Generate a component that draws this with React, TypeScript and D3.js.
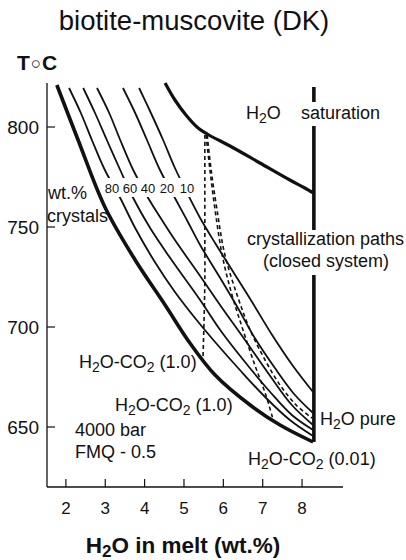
import React from 'react';
import * as d3 from 'd3';

type P = [number, number];

// axis ticks
const xTicks = [2, 3, 4, 5, 6, 7, 8];
const yTicks = [650, 700, 750, 800];

// crystal isopleth labels (wt.% crystals)
const crystalLabels = ['80', '60', '40', '20', '10'];
const crystalLabelX = [112, 130, 148, 167, 187];

// solidus-like bold curve (H2O wt.%, T °C)
const boldCurve: P[] = [
  [1.77, 821], [2.31, 793.5], [2.99, 760], [3.76, 733.5], [4.52, 711],
  [5.15, 692], [5.79, 676], [6.68, 661], [7.44, 651], [8.28, 642.5],
];
const c80: P[] = [
  [2.08, 819.5], [2.38, 807], [2.66, 793.5], [2.99, 778.5], [3.38, 764.5], [3.76, 749.5],
  [4.26, 732.5], [4.77, 717.5], [5.28, 704.5], [5.79, 692.5], [6.42, 678.5], [7.06, 665],
  [7.69, 653.5], [8.28, 645.5],
];
const c60: P[] = [
  [2.44, 819.5], [2.74, 807], [3.04, 793.5], [3.38, 778.5], [3.71, 764.5], [4.14, 749.5],
  [4.65, 734.5], [5.41, 713.5], [5.92, 698.5], [6.55, 682.5], [7.19, 667.5], [7.74, 656],
  [8.28, 648.5],
];
const c40: P[] = [
  [2.79, 819.5], [3.10, 807], [3.38, 793.5], [3.71, 778.5], [4.09, 764.5], [4.44, 753.5],
  [4.77, 743.5], [5.41, 725.5], [5.97, 709.5], [6.55, 693.5], [7.19, 675.5], [7.74, 661],
  [8.28, 651],
];
const c20: P[] = [
  [3.45, 819.5], [3.76, 807], [4.06, 793.5], [4.39, 778.5], [4.77, 764.5], [5.10, 752.5],
  [5.41, 741], [5.92, 724.5], [6.37, 709.5], [6.80, 694.5], [7.31, 679.5], [7.82, 666],
  [8.28, 657],
];
const c10: P[] = [
  [3.86, 819.5], [4.16, 807], [4.47, 793.5], [4.77, 779.5], [5.08, 767], [5.41, 754.5],
  [5.79, 742], [6.22, 728.5], [6.73, 712.5], [7.24, 696], [7.77, 680.5], [8.28, 667.5],
];
// liquidus / H2O saturation boundary
const liquidus: P[] = [
  [4.52, 822], [4.77, 813.5], [5.05, 806], [5.33, 800], [5.59, 796.5], [6.17, 790.5],
  [6.93, 782], [7.69, 773.5], [8.07, 769.5], [8.20, 768], [8.30, 767],
];
// crystallization paths (dashed)
const pathA: P[] = [
  [5.53, 796], [5.53, 773.5], [5.53, 748.5], [5.53, 723.5], [5.51, 703.5], [5.48, 682.5],
];
const pathB: P[] = [
  [5.56, 796], [5.66, 778.5], [5.79, 758.5], [5.97, 736], [6.22, 716], [6.50, 698.5],
  [6.80, 681], [7.08, 666], [7.26, 654],
];
const pathC: P[] = [
  [5.59, 796], [5.69, 778.5], [5.84, 758.5], [6.04, 736], [6.35, 716], [6.68, 698.5],
  [7.06, 683.5], [7.44, 671], [7.85, 661], [8.25, 654.5],
];
// H2O saturation vertical line segments (H2O wt.%, T range)
const satH2O = 8.3;
const satSegments: P[] = [[820, 812.5], [800.5, 748.5], [726, 642.5]];

const FONT = 'Liberation Sans, Arial, Helvetica, sans-serif';

const H2O = ({ sub = 14 }: { sub?: number }) => (
  <>
    H<tspan fontSize={sub} dy={4}>2</tspan>
    <tspan dy={-4}>O</tspan>
  </>
);

export default function App() {
  const x = d3.scaleLinear().domain([1.52, 9.04]).range([47, 343]);
  const y = d3.scaleLinear().domain([620, 822]).range([487, 83]);
  const line = d3
    .line<P>()
    .x((d) => x(d[0]))
    .y((d) => y(d[1]))
    .curve(d3.curveCatmullRom.alpha(0.5));

  const thin = [c80, c60, c40, c20, c10];
  const dashed = [pathA, pathB, pathC];

  return (
    <svg
      width={406}
      height={560}
      style={{ position: 'absolute', left: 0, top: 0, background: '#fff' }}
      fontFamily={FONT}
    >
      <rect x={0} y={0} width={406} height={560} fill="#fff" />
      {/* title */}
      <text x={194} y={30} fontSize={27.5} textAnchor="middle" fill="#111">
        biotite-muscovite (DK)
      </text>
      <text x={17} y={70} fontSize={21} fontWeight="bold" fill="#111">
        T<tspan fontSize={17} fontWeight="normal" dx={1} dy={-1}>○</tspan>
        <tspan dx={1} dy={1}>C</tspan>
      </text>

      {/* axes */}
      <line x1={x(1.52)} x2={x(1.52)} y1={y(822)} y2={y(620)} stroke="#111" strokeWidth={1.3} />
      <line x1={x(1.52)} x2={x(9.04)} y1={y(620)} y2={y(620)} stroke="#111" strokeWidth={1.3} />
      {yTicks.map((t) => (
        <g key={t}>
          <line x1={x(1.52)} x2={x(1.52) + 8} y1={y(t)} y2={y(t)} stroke="#111" strokeWidth={1.2} />
          <text x={39} y={y(t)} dy="0.36em" fontSize={19} textAnchor="end" fill="#111">
            {t}
          </text>
        </g>
      ))}
      {xTicks.map((t) => (
        <g key={t}>
          <line x1={x(t)} x2={x(t)} y1={y(620)} y2={y(620) - 8} stroke="#111" strokeWidth={1.2} />
          <text x={x(t)} y={514} fontSize={17} textAnchor="middle" fill="#111">
            {t}
          </text>
        </g>
      ))}
      <text x={183} y={553} fontSize={22.5} fontWeight="bold" textAnchor="middle" fill="#111">
        <H2O sub={17} /> in melt (wt.%)
      </text>

      {/* curves */}
      {thin.map((c, i) => (
        <path key={i} d={line(c) || ''} fill="none" stroke="#111" strokeWidth={1.8} />
      ))}
      <path d={line(boldCurve) || ''} fill="none" stroke="#111" strokeWidth={3.6} />
      <path d={line(liquidus) || ''} fill="none" stroke="#111" strokeWidth={3.2} />
      {dashed.map((c, i) => (
        <path
          key={i}
          d={line(c) || ''}
          fill="none"
          stroke="#111"
          strokeWidth={1.6}
          strokeDasharray="4 3"
        />
      ))}
      {satSegments.map((s, i) => (
        <line
          key={i}
          x1={x(satH2O)}
          x2={x(satH2O)}
          y1={y(s[0])}
          y2={y(s[1])}
          stroke="#111"
          strokeWidth={3.6}
        />
      ))}

      {/* gap for isopleth labels */}
      <rect x={104} y={178} width={93} height={19} fill="#fff" />
      {crystalLabels.map((l, i) => (
        <text key={l} x={crystalLabelX[i]} y={193} fontSize={13} textAnchor="middle" fill="#111">
          {l}
        </text>
      ))}

      {/* annotations */}
      <g fontSize={18} fill="#111">
        <text x={48} y={199}>wt.%</text>
        <text x={47} y={222}>crystals</text>
        <text x={246} y={119}>
          <H2O />
        </text>
        <text x={301} y={119}>saturation</text>
        <text x={247} y={245}>crystallization paths</text>
        <text x={263} y={267}>(closed system)</text>
        <text x={79} y={368}>
          <H2O />-CO<tspan fontSize={14} dy={4}>2</tspan>
          <tspan dy={-4}> (1.0)</tspan>
        </text>
        <text x={115} y={411}>
          <H2O />-CO<tspan fontSize={14} dy={4}>2</tspan>
          <tspan dy={-4}> (1.0)</tspan>
        </text>
        <text x={75} y={436}>4000 bar</text>
        <text x={75} y={458}>FMQ - 0.5</text>
        <text x={320} y={425}>
          <H2O /> pure
        </text>
        <text x={248} y={465}>
          <H2O />-CO<tspan fontSize={14} dy={4}>2</tspan>
          <tspan dy={-4}> (0.01)</tspan>
        </text>
      </g>
    </svg>
  );
}
